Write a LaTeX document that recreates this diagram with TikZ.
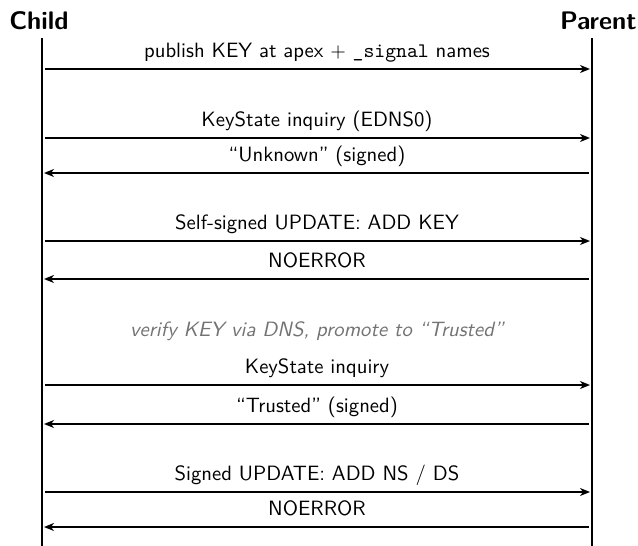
\documentclass[tikz,border=0pt]{standalone}
\usetikzlibrary{arrows.meta}
\begin{document}
\begin{tikzpicture}[x=0.5pt,y=-0.5pt,
  life/.style={line width=0.8pt},
  msg/.style={line width=0.8pt,-{Stealth[length=5pt,width=4pt,inset=1.5pt]},shorten >=1pt,shorten <=1.5pt},
  lbl/.style={font=\sffamily\fontsize{10.35}{12}\selectfont,anchor=base,inner sep=0pt},
  note/.style={font=\sffamily\itshape\fontsize{10.35}{12}\selectfont,text=black!55,anchor=base,inner sep=0pt},
  actor/.style={font=\sffamily\bfseries\fontsize{12.7}{15}\selectfont,anchor=base,inner sep=0pt}]
\useasboundingbox (0,0) rectangle (638,546);
% actors
\node[actor] (child) at (39,30) {Child};
\node[actor,anchor=base east] (parent) at (637,30) {Parent};
% lifelines
\coordinate (ct) at (42,38); \coordinate (cb) at (42,546);
\coordinate (pt) at (592,38); \coordinate (pb) at (592,546);
\draw[life] (ct) -- (cb);
\draw[life] (pt) -- (pb);
% message anchor points
\foreach \n/\y in {1/69,2/138,3/173,4/241,5/279,6/385,7/424,8/492,9/527}{
  \coordinate (c\n) at (42,\y);
  \coordinate (p\n) at (592,\y);
}
\draw[msg] (c1) -- (p1);
\node[lbl] (l1) at (317,57) {publish KEY at apex $+$ \texttt{\_signal} names};
\draw[msg] (c2) -- (p2);
\node[lbl] (l2) at (317,126) {KeyState inquiry (EDNS0)};
\draw[msg] (p3) -- (c3);
\node[lbl] (l3) at (317,161) {“Unknown” (signed)};
\draw[msg] (c4) -- (p4);
\node[lbl] (l4) at (317,229) {Self-signed UPDATE: ADD KEY};
\draw[msg] (p5) -- (c5);
\node[lbl] (l5) at (317,267) {NOERROR};
\node[note] (n1) at (317,336) {verify KEY via DNS, promote to “Trusted”};
\draw[msg] (c6) -- (p6);
\node[lbl] (l6) at (317,373) {KeyState inquiry};
\draw[msg] (p7) -- (c7);
\node[lbl] (l7) at (317,412) {“Trusted” (signed)};
\draw[msg] (c8) -- (p8);
\node[lbl] (l8) at (317,480) {Signed UPDATE: ADD NS / DS};
\draw[msg] (p9) -- (c9);
\node[lbl] (l9) at (317,515) {NOERROR};
\end{tikzpicture}
\end{document}
